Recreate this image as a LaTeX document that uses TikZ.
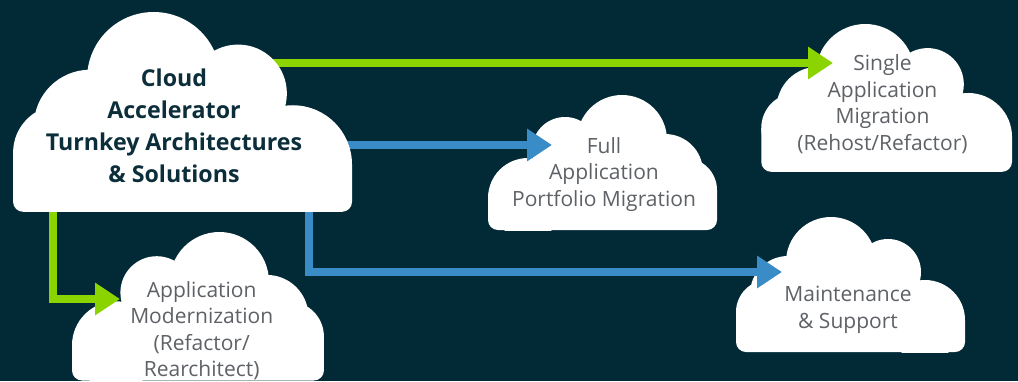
\documentclass[tikz,border=0pt]{standalone}
\usepackage{fontspec}
\setmainfont{Open Sans}
\usetikzlibrary{arrows.meta}
\definecolor{bgc}{HTML}{012A36}
\definecolor{greenc}{HTML}{8CD400}
\definecolor{bluec}{HTML}{3A8CC6}
\definecolor{darktext}{HTML}{0C2E3B}
\definecolor{greytext}{HTML}{5E6166}
\tikzset{
  cloudfill/.style={fill=white},
  maintxt/.style={align=center, inner sep=0pt, text=darktext, font=\fontsize{23.2}{32}\selectfont\bfseries, anchor=base},
  subtxt/.style={align=center, inner sep=0pt, text=greytext, font=\fontsize{21}{26.5}\selectfont, anchor=base},
  garrow/.style={draw=greenc, line width=8pt, -{Triangle[length=25pt,width=31pt]}},
  barrow/.style={draw=bluec, line width=8pt, -{Triangle[length=25pt,width=31pt]}}
}
\newcommand{\cloudbody}{%
  \clip (-5,-5) rectangle (235,135);
  \fill[cloudfill] (40,103) circle[radius=40pt] (77,55) circle[radius=33pt]
     (134,45) circle[radius=45pt] (177,77) circle[radius=38pt] (197,95) circle[radius=32pt];
  \fill[cloudfill] (0,103) -- (40,103) -- (77,55) -- (134,45) -- (177,77) -- (197,95) -- (229,95)
     [rounded corners=10pt] -- (229,135) -- (0,135) [sharp corners] -- cycle;
}
\newcommand{\cloudA}[3]{\begin{scope}[shift={(#1,#2)},scale=#3]\cloudbody\end{scope}}
\newcommand{\cloudB}[3]{\begin{scope}[shift={(#1,#2)},xscale=-#3,yscale=#3]\cloudbody\end{scope}}
\begin{document}
\begin{tikzpicture}[x=1pt,y=-1pt]
\fill[bgc] (0,0) rectangle (1018,381);
\useasboundingbox (0,0) rectangle (1018,381);
% destination clouds
\cloudB{1012}{24}{1.095}
\cloudA{488}{95}{1}
\cloudB{965}{217}{1}
\cloudA{72}{232}{1.1}
% connector end points
\coordinate (gA) at (250,63);
\coordinate (sT) at (833,63);
\coordinate (bA) at (300,145);
\coordinate (fT) at (552,145);
\coordinate (gB) at (53,190);
\coordinate (mT) at (120,299);
\coordinate (bB) at (309,190);
\coordinate (nT) at (782,272);
\draw[garrow] (gA) -- (sT);
\draw[barrow] (bA) -- (fT);
\draw[garrow] (gB) |- (mT);
\draw[barrow] (bB) |- (nT);
% main cloud
\cloudB{352}{12}{1.48}
% texts
\node[maintxt] (main) at (174,182.7) {Cloud\\Accelerator\\Turnkey Architectures\\\& Solutions};
\node[subtxt] (single) at (882.5,150) {Single\\Application\\Migration\\(Rehost/Refactor)};
\node[subtxt] (full) at (604,206) {Full\\Application\\Portfolio Migration};
\node[subtxt] (maint) at (848,328.3) {Maintenance\\\& Support};
\node[subtxt] (modern) at (201.7,376.7) {Application\\Modernization\\(Refactor/\\Rearchitect)};
\end{tikzpicture}
\end{document}
